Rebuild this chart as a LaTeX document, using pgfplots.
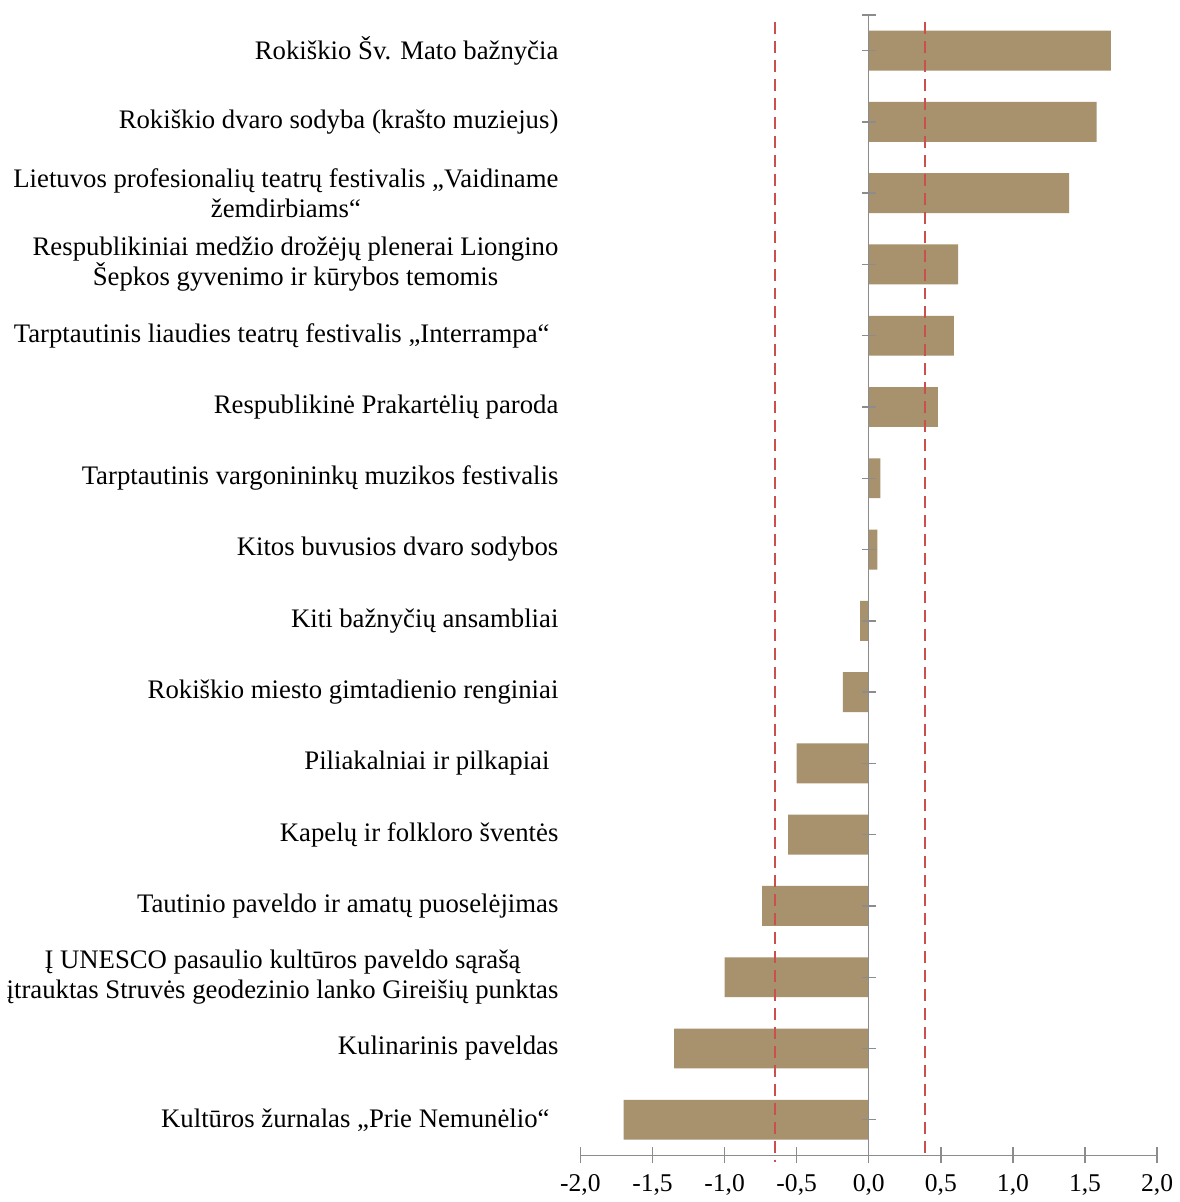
\documentclass[border=0pt]{standalone}
\usepackage{fontspec}
\setmainfont{Liberation Serif}
\usepackage{pgfplots}
\pgfplotsset{compat=1.18}
\definecolor{barc}{HTML}{A8916D}
\definecolor{dashc}{HTML}{C9504D}
\definecolor{axc}{HTML}{8C8C8C}
\begin{document}
\begin{tikzpicture}
\begin{axis}[
  scale only axis, width=289pt, height=571.5pt,
  xmin=-2, xmax=2, ymin=0.5, ymax=16.5, y dir=reverse,
  axis x line*=bottom, axis y line*=left,
  y axis line style={draw=none},
  x axis line style={axc, line width=0.7pt, -},
  xtick={-2,-1.5,...,2},
  tick align=center,
  major tick length=8pt,
  xtick style={axc, line width=0.7pt},
  ytick style={draw=none},
  xticklabel style={font=\fontsize{12.8}{14}\selectfont, yshift=-2pt},
  /pgf/number format/.cd, fixed, fixed zerofill, precision=1, use comma, assume math mode=true,
  /pgfplots/.cd,
  ytick={1,...,16},
  yticklabels={
    {Rokiškio Šv. Mato bažnyčia},
    {Rokiškio dvaro sodyba (krašto muziejus)},
    {Lietuvos profesionalių teatrų festivalis „Vaidiname\\žemdirbiams“},
    {Respublikiniai medžio drožėjų plenerai Liongino\\Šepkos gyvenimo ir kūrybos temomis},
    {Tarptautinis liaudies teatrų festivalis „Interrampa“\,\,},
    {Respublikinė Prakartėlių paroda},
    {Tarptautinis vargonininkų muzikos festivalis},
    {Kitos buvusios dvaro sodybos},
    {Kiti bažnyčių ansambliai},
    {Rokiškio miesto gimtadienio renginiai},
    {Piliakalniai ir pilkapiai\,\,},
    {Kapelų ir folkloro šventės},
    {Tautinio paveldo ir amatų puoselėjimas},
    {Į UNESCO pasaulio kultūros paveldo sąrašą\\įtrauktas Struvės geodezinio lanko Gireišių punktas},
    {Kulinarinis paveldas},
    {Kultūros žurnalas „Prie Nemunėlio“\,\,}
  },
  yticklabel style={font=\fontsize{13.4}{15}\selectfont, align=center, xshift=-3.5pt},
  clip=false,
]
\addplot[xbar, fill=barc, draw=none, bar width=0.56] coordinates {
  (1.68,1) (1.58,2) (1.39,3) (0.62,4) (0.59,5) (0.48,6) (0.08,7) (0.06,8)
  (-0.06,9) (-0.18,10) (-0.50,11) (-0.56,12) (-0.74,13) (-1.00,14) (-1.35,15) (-1.70,16)
};
\addplot[dashc, line width=1.2pt, dash pattern=on 6pt off 3.5pt, mark=none] coordinates {(-0.65,0.6) (-0.65,16.59)};
\addplot[dashc, line width=1.2pt, dash pattern=on 6pt off 3.5pt, mark=none] coordinates {(0.39,0.6) (0.39,16.55)};
\draw[axc, line width=0.7pt] (axis cs:0,0.5) -- (axis cs:0,16.5);
\pgfplotsinvokeforeach{0.5,1,2,3,4,5,6,7,8,9,10,11,12,13,14,15,16}{
  \draw[axc, line width=0.7pt] ([xshift=-3.5pt]axis cs:0,#1) -- ([xshift=3.5pt]axis cs:0,#1);
}
\path ([yshift=7.5pt]axis cs:0,0.5) -- ([yshift=7.5pt]axis cs:-2,0.5);
\end{axis}
\end{tikzpicture}
\end{document}
